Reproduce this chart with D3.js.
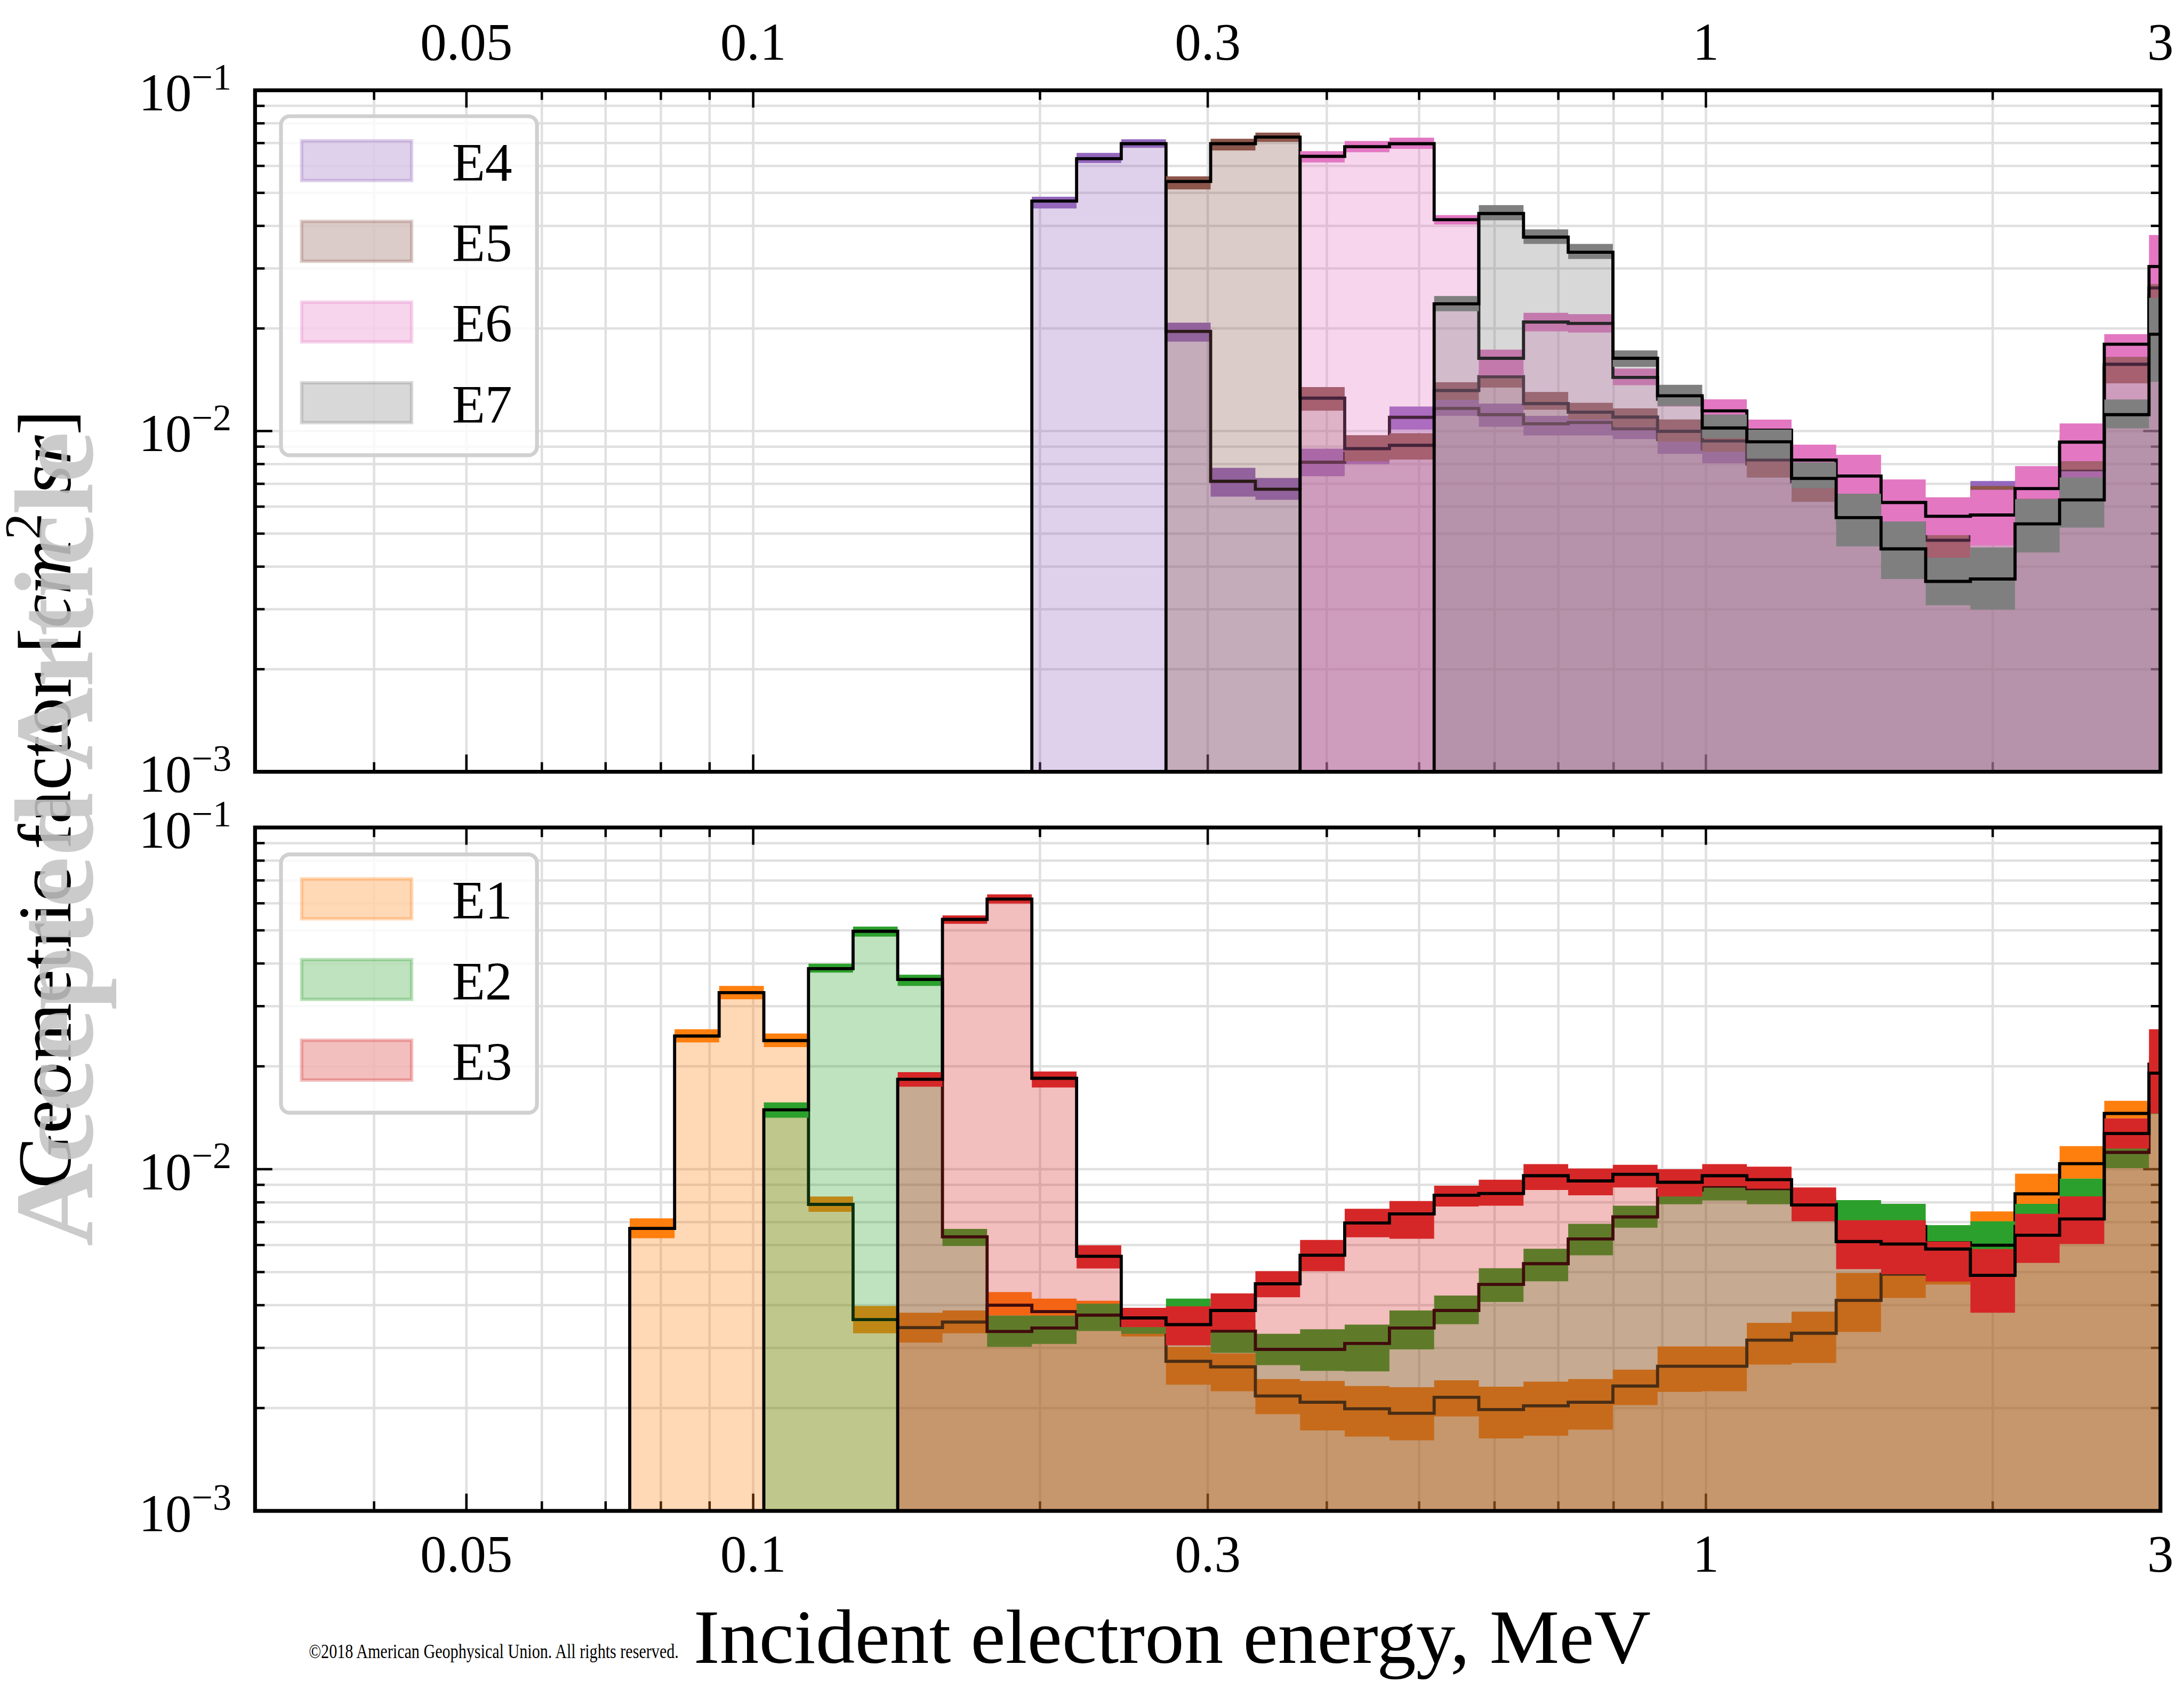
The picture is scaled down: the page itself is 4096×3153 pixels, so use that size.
<!DOCTYPE html>
<html>
<head>
<meta charset="utf-8">
<script src="https://cdn.jsdelivr.net/npm/d3@7"></script>
<style>
  body { margin: 0; background: #fff; }
  svg { display: block; }
  text { font-family: "Liberation Serif", "DejaVu Serif", serif; fill: #000; }
</style>
</head>
<body>
<div id="container"></div>
<script>
/* CONSTANTS AND GLOBALS */
const W = 4096, H = 3153,
  k = W / 4547; // layout is done in reference pixels, then scaled down

const axLeft = 531, axRight = 4498;
const topPanel = { top: 188, bottom: 1607 };
const botPanel = { top: 1723, bottom: 3146 };

/* DATA */
const xMajor = [0.05, 0.1, 0.3, 1, 3];
const xMajorLabels = ["0.05", "0.1", "0.3", "1", "3"];
const yMajor = [1e-3, 1e-2, 1e-1];
const yMajorExp = ["\u22123", "\u22122", "\u22121"];

// energy bin edges, MeV
const binEdges = [0.0742, 0.0827, 0.0921, 0.1026, 0.1143, 0.1273, 0.1418, 0.1580, 0.1760, 0.1961,
  0.2185, 0.2434, 0.2712, 0.3021, 0.3366, 0.3750, 0.4177, 0.4654, 0.5185, 0.5776,
  0.6435, 0.7169, 0.7987, 0.8897, 0.9911, 1.104, 1.230, 1.370, 1.527, 1.701,
  1.895, 2.111, 2.351, 2.619, 2.918, 3.251];

// each channel: first bin, median value, lower and upper edge of the band
const e1Start = 0;
const e1Value = [0.00671, 0.02453, 0.03286, 0.02379, 0.00789, 0.00363, 0.00344, 0.00357, 0.00400, 0.00383, 0.00374, 0.00349, 0.00274, 0.00264, 0.00217, 0.00208, 0.00199, 0.00193, 0.00215, 0.00198, 0.00203, 0.00208, 0.00232, 0.00265, 0.00265, 0.00316, 0.00331, 0.00413, 0.00493, 0.00536, 0.00646, 0.00847, 0.01038, 0.01456, 0.0203];
const e1Low = [0.00628, 0.0235, 0.03144, 0.02276, 0.0075, 0.00331, 0.00311, 0.00331, 0.00373, 0.0037, 0.0034, 0.00324, 0.00234, 0.00224, 0.00192, 0.00172, 0.00165, 0.00161, 0.00189, 0.00163, 0.00166, 0.00173, 0.00204, 0.00223, 0.00224, 0.00268, 0.00271, 0.00334, 0.0042, 0.0046, 0.0055, 0.00792, 0.00938, 0.01408, 0.019];
const e1High = [0.00718, 0.02568, 0.0344, 0.02495, 0.00832, 0.00398, 0.0038, 0.00386, 0.00437, 0.00418, 0.00412, 0.0036, 0.00302, 0.00289, 0.00243, 0.0024, 0.00232, 0.0023, 0.00241, 0.00231, 0.00239, 0.00243, 0.00259, 0.00303, 0.00303, 0.00355, 0.00383, 0.00497, 0.0058, 0.0062, 0.00752, 0.0097, 0.01168, 0.01585, 0.0215];

const e2Start = 3;
const e2Value = [0.01492, 0.03863, 0.0497, 0.03592, 0.00634, 0.00335, 0.00343, 0.00374, 0.00349, 0.00373, 0.00336, 0.00297, 0.00297, 0.00309, 0.00343, 0.00386, 0.0046, 0.00529, 0.00625, 0.00725, 0.00869, 0.00892, 0.00877, 0.0079, 0.00701, 0.0068, 0.00609, 0.00599, 0.0068, 0.00812, 0.0112, 0.015];
const e2Low = [0.01414, 0.03761, 0.04796, 0.0344, 0.00596, 0.00302, 0.00308, 0.00336, 0.0033, 0.0033, 0.0029, 0.00267, 0.00257, 0.00256, 0.00297, 0.00352, 0.00409, 0.0047, 0.0056, 0.00674, 0.0079, 0.0081, 0.0079, 0.0075, 0.00625, 0.00594, 0.00536, 0.00528, 0.00635, 0.0074, 0.01007, 0.0145];
const e2High = [0.01568, 0.03995, 0.0513, 0.03709, 0.00669, 0.00373, 0.00373, 0.00404, 0.00373, 0.00418, 0.0036, 0.0033, 0.0034, 0.00351, 0.00386, 0.00427, 0.00513, 0.00585, 0.00692, 0.00782, 0.0092, 0.0092, 0.0091, 0.0083, 0.00812, 0.00792, 0.00686, 0.00704, 0.00792, 0.00938, 0.01154, 0.0155];

const e3Start = 6;
const e3Value = [0.01833, 0.05383, 0.06172, 0.01845, 0.00556, 0.00367, 0.00351, 0.00386, 0.00462, 0.0056, 0.00696, 0.0074, 0.00839, 0.00849, 0.00957, 0.00924, 0.00966, 0.00916, 0.00957, 0.00932, 0.00786, 0.00614, 0.00604, 0.00584, 0.00489, 0.00641, 0.00715, 0.01272, 0.0191];
const e3Low = [0.01744, 0.05224, 0.05988, 0.01734, 0.00512, 0.00345, 0.00305, 0.00339, 0.00422, 0.00503, 0.00632, 0.00626, 0.00778, 0.00782, 0.00869, 0.00839, 0.00884, 0.00832, 0.00892, 0.00877, 0.00704, 0.0051, 0.00493, 0.00469, 0.0038, 0.00532, 0.00604, 0.01149, 0.01456];
const e3High = [0.01923, 0.05529, 0.06372, 0.01932, 0.00599, 0.00393, 0.00397, 0.00433, 0.00503, 0.00621, 0.00766, 0.00807, 0.00895, 0.00932, 0.01035, 0.01005, 0.0103, 0.01, 0.01035, 0.01017, 0.00884, 0.00709, 0.00709, 0.00614, 0.00584, 0.0074, 0.00833, 0.01408, 0.02567];

const e4Start = 9;
const e4Value = [0.0473, 0.063, 0.0697, 0.0196, 0.00712, 0.00675, 0.0081, 0.0086, 0.01097, 0.01165, 0.01117, 0.0105, 0.0106, 0.01015, 0.00944, 0.00886, 0.008, 0.0071, 0.0058, 0.00516, 0.00521, 0.00607, 0.0064, 0.0077, 0.01531, 0.025];
const e4Low = [0.045, 0.0612, 0.0678, 0.0183, 0.00642, 0.00628, 0.00737, 0.008, 0.0101, 0.01108, 0.01029, 0.00971, 0.00971, 0.00947, 0.00857, 0.00804, 0.0074, 0.0064, 0.0053, 0.0047, 0.0047, 0.0053, 0.0058, 0.0071, 0.0145, 0.023];
const e4High = [0.0487, 0.0655, 0.0718, 0.0208, 0.0078, 0.00728, 0.00888, 0.0093, 0.0118, 0.01234, 0.01204, 0.01108, 0.01098, 0.0105, 0.0099, 0.0093, 0.0085, 0.0075, 0.0063, 0.0056, 0.0057, 0.00713, 0.007, 0.0083, 0.016, 0.027];

const e5Start = 12;
const e5Value = [0.054, 0.0697, 0.0729, 0.01249, 0.00888, 0.00908, 0.01315, 0.01444, 0.01204, 0.01136, 0.01099, 0.00998, 0.00935, 0.00823, 0.0071, 0.0059, 0.00557, 0.00478, 0.00592, 0.00661, 0.00897, 0.0157, 0.0263];
const e5Low = [0.0512, 0.0666, 0.0706, 0.01148, 0.00816, 0.00825, 0.01234, 0.01341, 0.01155, 0.01081, 0.01029, 0.00931, 0.0087, 0.0073, 0.0062, 0.0054, 0.0051, 0.00425, 0.0052, 0.006, 0.0077, 0.0138, 0.024];
const e5High = [0.0559, 0.0721, 0.0751, 0.01346, 0.00972, 0.00986, 0.0139, 0.01505, 0.01302, 0.0121, 0.01165, 0.01081, 0.01, 0.0088, 0.0075, 0.0064, 0.0061, 0.0052, 0.0069, 0.0072, 0.0097, 0.0166, 0.029];

const e6Start = 15;
const e6Value = [0.064, 0.0683, 0.0697, 0.0417, 0.01635, 0.02089, 0.02069, 0.01437, 0.0124, 0.01146, 0.01006, 0.00822, 0.00738, 0.00617, 0.00562, 0.00567, 0.00678, 0.00928, 0.01798, 0.0304];
const e6Low = [0.0614, 0.0658, 0.0673, 0.0404, 0.01457, 0.01962, 0.01946, 0.01363, 0.0118, 0.0106, 0.0093, 0.0075, 0.00655, 0.00543, 0.00495, 0.00462, 0.00633, 0.00816, 0.01652, 0.027];
const e6High = [0.0663, 0.071, 0.0726, 0.043, 0.01733, 0.02222, 0.02203, 0.01526, 0.013, 0.01239, 0.0108, 0.00912, 0.00852, 0.00721, 0.00639, 0.00672, 0.00789, 0.01053, 0.01924, 0.0376];

const e7Start = 18;
const e7Value = [0.02362, 0.04348, 0.03707, 0.03347, 0.01635, 0.01269, 0.01021, 0.0093, 0.00726, 0.00557, 0.00451, 0.00362, 0.00368, 0.00534, 0.00628, 0.01117, 0.01924];
const e7Low = [0.02247, 0.04154, 0.03541, 0.03198, 0.01543, 0.01184, 0.00954, 0.0083, 0.0068, 0.00459, 0.00368, 0.00308, 0.00299, 0.0044, 0.00521, 0.01018, 0.01394];
const e7High = [0.02489, 0.04603, 0.03907, 0.03541, 0.01724, 0.01367, 0.01118, 0.0101, 0.0081, 0.00655, 0.00543, 0.00425, 0.00455, 0.00631, 0.00731, 0.01238, 0.0246];

const tab = d3.schemeCategory10;
const bottomChannels = [
  { name: "E1", color: tab[1], start: e1Start, value: e1Value, low: e1Low, high: e1High },
  { name: "E2", color: tab[2], start: e2Start, value: e2Value, low: e2Low, high: e2High },
  { name: "E3", color: tab[3], start: e3Start, value: e3Value, low: e3Low, high: e3High },
];
const topChannels = [
  { name: "E4", color: tab[4], start: e4Start, value: e4Value, low: e4Low, high: e4High },
  { name: "E5", color: tab[5], start: e5Start, value: e5Value, low: e5Low, high: e5High },
  { name: "E6", color: tab[6], start: e6Start, value: e6Value, low: e6Low, high: e6High },
  { name: "E7", color: tab[7], start: e7Start, value: e7Value, low: e7Low, high: e7High },
];

let svg, root, xScale;

init();

function init() {
  svg = d3.select("#container").append("svg")
    .attr("width", W).attr("height", H);
  svg.append("rect").attr("width", W).attr("height", H).attr("fill", "#fff");
  root = svg.append("g").attr("transform", `scale(${k})`);

  xScale = d3.scaleLog().domain([0.03, 3]).range([axLeft, axRight]);

  drawPanel(topPanel, topChannels, "top", "clipTop", 242);
  drawPanel(botPanel, bottomChannels, "bottom", "clipBot", 1779);
  drawLabels();
}

function isMajor(list, v) {
  return list.some(m => Math.abs(m - v) / m < 1e-6);
}

function drawPanel(panel, channels, side, clipId, legendTop) {
  const yScale = d3.scaleLog().domain([1e-3, 1e-1]).range([panel.bottom, panel.top]);
  const g = root.append("g");
  const xt = xScale.ticks(), yt = yScale.ticks();

  g.append("clipPath").attr("id", clipId).append("rect")
    .attr("x", axLeft).attr("y", panel.top)
    .attr("width", axRight - axLeft).attr("height", panel.bottom - panel.top);

  /* GRID */
  g.append("g").selectAll("line").data(xt).join("line")
    .attr("x1", d => xScale(d)).attr("x2", d => xScale(d))
    .attr("y1", panel.top).attr("y2", panel.bottom)
    .attr("stroke", "#e0e0e0").attr("stroke-width", 5);
  g.append("g").selectAll("line").data(yt).join("line")
    .attr("x1", axLeft).attr("x2", axRight)
    .attr("y1", d => yScale(d)).attr("y2", d => yScale(d))
    .attr("stroke", "#e0e0e0").attr("stroke-width", 5);

  /* TICKS (inward, under the data) */
  const ticks = g.append("g").attr("stroke", "#000").attr("stroke-width", 5);
  xt.forEach(d => {
    const len = isMajor(xMajor, d) ? 36 : 20, x = xScale(d);
    ticks.append("line").attr("x1", x).attr("x2", x).attr("y1", panel.bottom).attr("y2", panel.bottom - len);
    ticks.append("line").attr("x1", x).attr("x2", x).attr("y1", panel.top).attr("y2", panel.top + len);
  });
  yt.forEach(d => {
    const len = isMajor(yMajor, d) ? 36 : 20, y = yScale(d);
    ticks.append("line").attr("x1", axLeft).attr("x2", axLeft + len).attr("y1", y).attr("y2", y);
    ticks.append("line").attr("x1", axRight).attr("x2", axRight - len).attr("y1", y).attr("y2", y);
  });

  /* DATA */
  const plot = g.append("g").attr("clip-path", `url(#${clipId})`);
  const xs = d => xScale(d.e);

  channels.forEach(ch => {
    const pts = ch.value.map((v, i) => ({ e: binEdges[ch.start + i], v, lo: ch.low[i], hi: ch.high[i] }));
    const last = pts[pts.length - 1];
    pts.push({ e: binEdges[ch.start + ch.value.length], v: last.v, lo: last.lo, hi: last.hi });

    const fill = d3.area().curve(d3.curveStepAfter).x(xs)
      .y0(panel.bottom + 20).y1(d => yScale(d.v));
    plot.append("path").datum(pts).attr("d", fill)
      .attr("fill", ch.color).attr("fill-opacity", 0.3)
      .attr("stroke", ch.color).attr("stroke-opacity", 0.5).attr("stroke-width", 3);

    const band = d3.area().curve(d3.curveStepAfter).x(xs)
      .y0(d => yScale(d.lo)).y1(d => yScale(d.hi));
    plot.append("path").datum(pts).attr("d", band).attr("fill", ch.color);

    const line = d3.line().curve(d3.curveStepAfter).x(xs).y(d => yScale(d.v));
    plot.append("path").datum([{ e: pts[0].e, v: 1e-4 }, ...pts]).attr("d", line)
      .attr("fill", "none").attr("stroke", "#000").attr("stroke-width", 6.5);
  });

  /* SPINES */
  g.append("rect")
    .attr("x", axLeft).attr("y", panel.top)
    .attr("width", axRight - axLeft).attr("height", panel.bottom - panel.top)
    .attr("fill", "none").attr("stroke", "#000").attr("stroke-width", 8);

  /* TICK LABELS */
  const ly = side === "top" ? panel.top - 64 : panel.bottom + 127;
  g.append("g").selectAll("text").data(xMajor).join("text")
    .attr("x", d => xScale(d)).attr("y", ly)
    .attr("text-anchor", "middle").attr("font-size", 110)
    .text((d, i) => xMajorLabels[i]);

  yMajor.forEach((d, i) => {
    const t = g.append("text").attr("x", 482).attr("y", yScale(d) + 42)
      .attr("text-anchor", "end").attr("font-size", 110);
    t.append("tspan").text("10");
    t.append("tspan").attr("dy", -44).attr("font-size", 78).text(yMajorExp[i]);
  });

  /* LEGEND */
  const lg = g.append("g").attr("transform", `translate(585, ${legendTop})`);
  lg.append("rect")
    .attr("width", 533).attr("height", 92 + channels.length * 168 - 58)
    .attr("rx", 18)
    .attr("fill", "#fff").attr("fill-opacity", 0.8)
    .attr("stroke", "#d0d0d0").attr("stroke-width", 8);
  channels.forEach((ch, i) => {
    lg.append("rect")
      .attr("x", 43).attr("y", 51 + i * 168).attr("width", 229).attr("height", 83)
      .attr("fill", ch.color).attr("fill-opacity", 0.3)
      .attr("stroke", ch.color).attr("stroke-opacity", 0.3).attr("stroke-width", 7);
    lg.append("text")
      .attr("x", 356).attr("y", 134 + i * 168)
      .attr("font-size", 113).text(ch.name);
  });
}

function drawLabels() {
  // y label
  const yl = root.append("text")
    .attr("transform", "translate(146, 1664) rotate(-90)")
    .attr("text-anchor", "middle").attr("font-size", 158);
  yl.append("tspan").text("Geometric factor [");
  yl.append("tspan").attr("font-style", "italic").text("cm");
  yl.append("tspan").attr("font-size", 110).attr("dy", -60).text("2");
  yl.append("tspan").attr("dy", 60).text(" ");
  yl.append("tspan").attr("font-style", "italic").text("sr");
  yl.append("tspan").text("]");

  // x label
  root.append("text")
    .attr("x", 1444).attr("y", 3462)
    .attr("font-size", 160)
    .attr("textLength", 1993).attr("lengthAdjust", "spacingAndGlyphs")
    .text("Incident electron energy, MeV");

  // watermark
  root.append("text")
    .attr("transform", "translate(192, 1747) rotate(-90)")
    .attr("text-anchor", "middle").attr("font-size", 232).attr("font-weight", "bold")
    .attr("textLength", 1696).attr("lengthAdjust", "spacingAndGlyphs")
    .style("fill", "#c4c4c4").attr("fill-opacity", 0.88)
    .text("Accepted Article");

  // copyright
  root.append("text")
    .attr("x", 643).attr("y", 3452)
    .attr("font-size", 42)
    .attr("textLength", 770).attr("lengthAdjust", "spacingAndGlyphs")
    .text("\u00a92018 American Geophysical Union. All rights reserved.");
}
</script>
</body>
</html>
